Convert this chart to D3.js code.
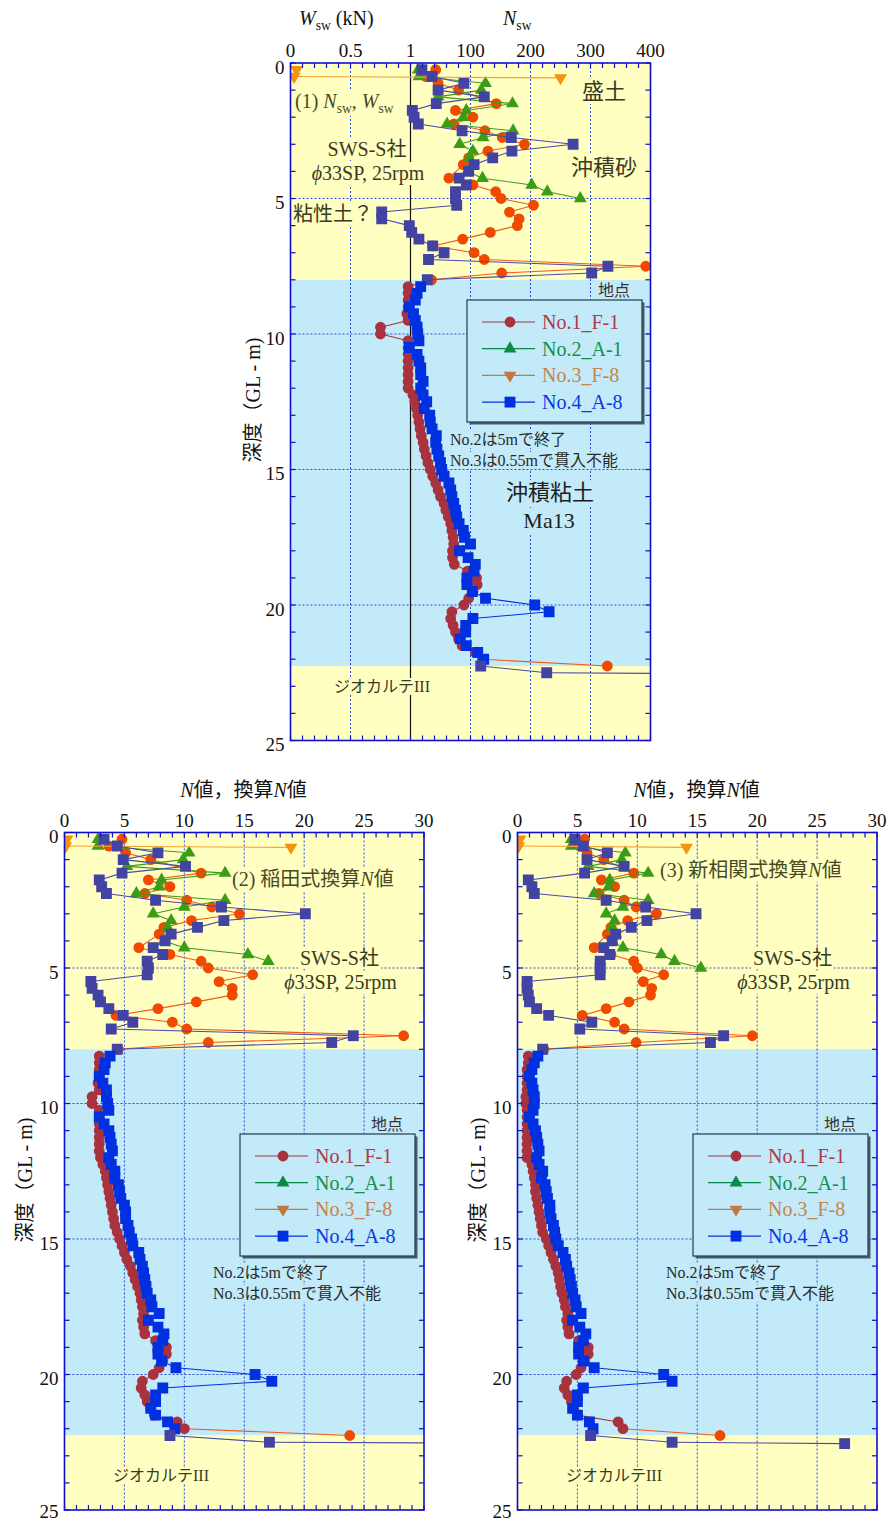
<!DOCTYPE html>
<html><head><meta charset="utf-8">
<script src="https://cdn.jsdelivr.net/npm/d3@7"></script>
<style>body{margin:0;background:#fff}</style>
</head><body>
<svg id="c" width="893" height="1521" xmlns="http://www.w3.org/2000/svg"></svg>
<script>
// ---------------- DATA ----------------
// Soil layers (depth, m)
const soilTop = [0, 8, 22.25];
const soilBottom = [8, 22.25, 25];
const soilKind = ['sand', 'clay', 'sand'];

const depthTicks = [0, 5, 10, 15, 20, 25];
const topTickW = [0, 0.5, 1];            // Wsw (kN)
const topTickN = [100, 200, 300, 400];   // Nsw
const nTicks = [0, 5, 10, 15, 20, 25, 30];
const seriesNames = ['No.1_F-1', 'No.2_A-1', 'No.3_F-8', 'No.4_A-8'];

// Panel (1): [depth m, Wsw kN, Nsw]
const top_no1 = [[0.25,1,42],[0.5,1,26],[0.75,1,46],[1.0,1,80],[1.5,1,143],[1.75,1,75],[2.0,1,104],[2.25,1,72],[2.5,1,124],[2.75,1,153],[3.0,1,190],[3.25,1,129],[3.5,1,97],[3.75,1,88],[4.25,1,64],[4.5,1,104],[4.75,1,142],[5.0,1,151],[5.25,1,205],[5.5,1,165],[5.75,1,181],[6.0,1,178],[6.25,1,133],[6.5,1,87],[6.75,1,37],[7.0,1,106],[7.25,1,123],[7.5,1,392],[7.75,1,152],[8.0,1,35],
 [8.25,0.98,0],[8.5,0.98,0],[8.75,0.98,0],[9.0,0.98,0],[9.25,0.97,0],[9.5,0.98,0],[9.75,0.75,0],[10.0,0.75,0],[10.25,0.98,0],[10.5,0.98,0],[10.75,0.98,0],[11.0,0.98,0],[11.25,0.98,0],[11.5,0.98,0],[11.75,0.98,0],[12.0,0.98,0],[12.25,1,4],[12.5,1,7],[12.75,1,10],[13.0,1,12],[13.25,1,14],[13.5,1,16],[13.75,1,18],[14.0,1,21],[14.25,1,23],[14.5,1,26],[14.75,1,29],[15.0,1,33],[15.25,1,37],[15.5,1,42],[15.75,1,46],[16.0,1,50],[16.25,1,56],[16.5,1,59],[16.75,1,63],[17.0,1,67],[17.25,1,69],[17.5,1,71],[17.75,1,72],[18.0,1,70],[18.25,1,70],[18.5,1,73],[18.75,1,95],[19.0,1,110],[19.25,1,111],[19.5,1,104],[19.75,1,97],[20.0,1,89],[20.25,1,69],[20.5,1,67],[20.75,1,71],[21.0,1,75],[21.25,1,80],[21.5,1,86],[21.75,1,108],[22.0,1,120],[22.25,1,328]];
const top_no2 = [[0.25,1,13],[0.5,1,14],[0.75,1,125],[1.0,1,118],[1.25,1,46],[1.5,1,170],[1.75,1,93],[2.0,1,88],[2.25,1,61],[2.5,1,171],[2.75,1,121],[3.0,1,82],[3.25,1,104],[3.5,1,98],[3.75,1,103],[4.0,1,95],[4.25,1,120],[4.5,1,202],[4.75,1,228],[5.0,1,283]];
const top_no3 = [[0.25,0.05,0],[0.5,0.03,0],[0.55,1,250]];
const top_no4 = [[0.25,1,19],[0.5,1,36],[0.75,1,89],[1.0,1,46],[1.25,1,123],[1.5,1,43],[1.75,1,3],[2.0,1,6],[2.25,1,13],[2.5,1,86],[2.75,1,168],[3.0,1,271],[3.25,1,169],[3.5,1,137],[3.75,1,106],[4.0,1,97],[4.25,1,81],[4.5,1,93],[4.75,1,75],[5.0,1,75],[5.25,1,77],[5.5,0.76,0],[5.75,0.76,0],[6.0,0.99,0],[6.25,1,2],[6.5,1,14],[6.75,1,37],[7.0,1,56],[7.25,1,30],[7.5,1,329],[7.75,1,302],[8.0,1,28],
 [8.25,1,17],[8.5,1,11],[8.75,1,8],[9.0,0.99,0],[9.25,1,5],[9.5,1,8],[9.75,1,11],[10.0,1,12],[10.25,1,14],[10.5,0.99,0],[10.75,1,11],[11.0,1,14],[11.25,1,17],[11.5,1,17],[11.75,1,21],[12.0,1,17],[12.25,1,21],[12.5,1,27],[12.75,1,23],[13.0,1,32],[13.25,1,33],[13.5,1,36],[13.75,1,43],[14.0,1,42],[14.25,1,44],[14.5,1,47],[14.75,1,50],[15.0,1,52],[15.25,1,56],[15.5,1,64],[15.75,1,67],[16.0,1,69],[16.25,1,72],[16.5,1,75],[16.75,1,77],[17.0,1,81],[17.25,1,88],[17.5,1,90],[17.75,1,100],[18.0,1,82],[18.25,1,96],[18.5,1,108],[18.75,1,106],[19.0,1,94],[19.25,1,94],[19.5,1,103],[19.75,1,125],[20.0,1,207],[20.25,1,231],[20.5,1,104],[20.75,1,92],[21.0,1,92],[21.25,1,83],[21.5,1,93],[21.75,1,112],[22.0,1,122],[22.25,1,117],[22.5,1,227],[22.55,1,600]];

// Panel (2) Inada-converted N: [depth m, N]
const bl_no1 = [[0.25,4.8],[0.5,3.7],[0.75,5.1],[1.0,7.2],[1.5,11.4],[1.75,7.0],[2.0,8.8],[2.25,6.7],[2.5,10.2],[2.75,12.3],[3.0,14.6],[3.25,10.6],[3.5,8.3],[3.75,7.9],[4.25,6.2],[4.5,8.8],[4.75,11.4],[5.0,12.0],[5.25,15.7],[5.5,12.9],[5.75,14.0],[6.0,14.0],[6.25,11.0],[6.5,7.8],[6.75,4.3],[7.0,9.0],[7.25,10.2],[7.5,28.3],[7.75,12.0],[8.0,4.5],
 [8.25,2.9],[8.5,2.9],[8.75,2.9],[9.0,2.9],[9.25,2.8],[9.5,2.9],[9.75,2.3],[10.0,2.3],[10.25,2.9],[10.5,2.9],[10.75,2.9],[11.0,2.9],[11.25,2.9],[11.5,2.9],[11.75,2.9],[12.0,3.0],[12.25,3.2],[12.5,3.4],[12.75,3.5],[13.0,3.6],[13.25,3.7],[13.5,3.8],[13.75,3.9],[14.0,4.0],[14.25,4.1],[14.5,4.2],[14.75,4.4],[15.0,4.6],[15.25,4.8],[15.5,5.0],[15.75,5.2],[16.0,5.5],[16.25,5.7],[16.5,5.9],[16.75,6.1],[17.0,6.3],[17.25,6.4],[17.5,6.5],[17.75,6.6],[18.0,6.5],[18.25,6.6],[18.5,6.7],[18.75,7.6],[19.0,8.5],[19.25,8.5],[19.5,8.2],[19.75,7.9],[20.0,7.4],[20.25,6.5],[20.5,6.4],[20.75,6.7],[21.0,6.9],[21.25,7.2],[21.5,7.5],[21.75,9.4],[22.0,10.0],[22.25,23.8]];
const bl_no2 = [[0.25,2.8],[0.5,2.8],[0.75,10.4],[1.0,9.9],[1.25,5.2],[1.5,13.4],[1.75,8.1],[2.0,7.9],[2.25,6.0],[2.5,13.4],[2.75,10.0],[3.0,7.4],[3.25,8.9],[3.5,8.6],[3.75,8.8],[4.0,8.3],[4.25,10.0],[4.5,15.3],[4.75,17.0]];
const bl_no3 = [[0.25,0.2],[0.5,0.1],[0.55,18.9]];
const bl_no4 = [[0.25,3.3],[0.5,4.4],[0.75,7.8],[1.0,4.9],[1.25,10.1],[1.5,4.8],[1.75,2.9],[2.0,3.1],[2.25,3.5],[2.5,7.6],[2.75,13.1],[3.0,20.1],[3.25,13.3],[3.5,11.1],[3.75,8.9],[4.0,8.4],[4.25,7.4],[4.5,8.2],[4.75,6.9],[5.0,7.0],[5.25,6.9],[5.5,2.2],[5.75,2.3],[6.0,2.8],[6.25,3.0],[6.5,3.7],[6.75,4.9],[7.0,5.7],[7.25,3.9],[7.5,24.1],[7.75,22.3],[8.0,4.4],
 [8.25,3.8],[8.5,3.4],[8.75,3.3],[9.0,2.9],[9.25,3.2],[9.5,3.5],[9.75,3.5],[10.0,3.6],[10.25,3.7],[10.5,2.9],[10.75,3.3],[11.0,3.7],[11.25,3.8],[11.5,3.9],[11.75,4.0],[12.0,3.7],[12.25,3.9],[12.5,4.2],[12.75,4.2],[13.0,4.5],[13.25,4.6],[13.5,4.7],[13.75,5.0],[14.0,5.1],[14.25,5.1],[14.5,5.3],[14.75,5.4],[15.0,5.6],[15.25,5.7],[15.5,6.2],[15.75,6.3],[16.0,6.5],[16.25,6.6],[16.5,6.7],[16.75,6.8],[17.0,6.9],[17.25,7.2],[17.5,7.3],[17.75,7.9],[18.0,7.0],[18.25,7.8],[18.5,8.3],[18.75,8.2],[19.0,7.8],[19.25,7.8],[19.5,8.1],[19.75,9.3],[20.0,15.9],[20.25,17.3],[20.5,8.2],[20.75,7.6],[21.0,7.6],[21.25,7.2],[21.5,7.6],[21.75,8.6],[22.0,9.2],[22.25,8.8],[22.5,17.1],[22.55,45]];

// Panel (3) new-correlation converted N: [depth m, N]
const br_no1 = [[0.25,5.6],[0.5,5.2],[0.75,5.8],[1.0,7.2],[1.5,9.7],[1.75,7.0],[2.0,8.1],[2.25,6.8],[2.5,8.9],[2.75,9.9],[3.0,11.6],[3.25,9.2],[3.5,7.8],[3.75,7.5],[4.25,6.4],[4.5,7.8],[4.75,9.7],[5.0,10.0],[5.25,12.2],[5.5,10.5],[5.75,11.2],[6.0,11.1],[6.25,9.3],[6.5,7.4],[6.75,5.4],[7.0,8.1],[7.25,8.9],[7.5,19.6],[7.75,9.9],[8.0,2.2],
 [8.25,0.9],[8.5,0.9],[8.75,0.8],[9.0,0.8],[9.25,0.8],[9.5,0.8],[9.75,0.7],[10.0,0.7],[10.25,0.8],[10.5,0.8],[10.75,0.8],[11.0,0.8],[11.25,0.8],[11.5,0.8],[11.75,0.8],[12.0,0.8],[12.25,1.2],[12.5,1.3],[12.75,1.4],[13.0,1.5],[13.25,1.5],[13.5,1.6],[13.75,1.7],[14.0,1.8],[14.25,1.9],[14.5,2.0],[14.75,2.1],[15.0,2.4],[15.25,2.6],[15.5,2.8],[15.75,3.0],[16.0,3.2],[16.25,3.4],[16.5,3.5],[16.75,3.6],[17.0,3.7],[17.25,3.9],[17.5,4.0],[17.75,4.2],[18.0,4.1],[18.25,4.2],[18.5,4.3],[18.75,5.1],[19.0,5.9],[19.25,5.9],[19.5,5.6],[19.75,5.3],[20.0,4.9],[20.25,4.1],[20.5,3.9],[20.75,4.2],[21.0,4.5],[21.25,4.7],[21.5,5.0],[21.75,8.4],[22.0,8.8],[22.25,16.9]];
const br_no2 = [[0.25,4.5],[0.5,4.5],[0.75,9.0],[1.0,8.7],[1.25,5.9],[1.5,10.9],[1.75,7.7],[2.0,7.6],[2.25,6.4],[2.5,10.9],[2.75,8.8],[3.0,7.4],[3.25,8.1],[3.5,7.9],[3.75,8.2],[4.0,7.9],[4.25,8.8],[4.5,12.0],[4.75,13.1],[5.0,15.3]];
const br_no3 = [[0.25,0.2],[0.5,0.1],[0.55,14.1]];
const br_no4 = [[0.25,4.8],[0.5,5.5],[0.75,7.5],[1.0,5.8],[1.25,8.9],[1.5,5.6],[1.75,0.9],[2.0,1.2],[2.25,1.4],[2.5,7.4],[2.75,10.7],[3.0,14.9],[3.25,10.8],[3.5,9.5],[3.75,8.2],[4.0,7.9],[4.25,7.2],[4.5,7.7],[4.75,6.9],[5.0,6.9],[5.25,6.9],[5.5,0.8],[5.75,0.8],[6.0,0.9],[6.25,1.0],[6.5,1.6],[6.75,2.6],[7.0,6.2],[7.25,5.2],[7.5,17.2],[7.75,16.1],[8.0,2.1],
 [8.25,1.7],[8.5,1.4],[8.75,1.2],[9.0,1.0],[9.25,1.2],[9.5,1.3],[9.75,1.4],[10.0,1.4],[10.25,1.3],[10.5,1.0],[10.75,1.3],[11.0,1.5],[11.25,1.6],[11.5,1.7],[11.75,1.8],[12.0,1.6],[12.25,1.8],[12.5,2.1],[12.75,2.0],[13.0,2.3],[13.25,2.4],[13.5,2.5],[13.75,2.7],[14.0,2.7],[14.25,2.8],[14.5,3.0],[14.75,3.1],[15.0,3.2],[15.25,3.4],[15.5,3.8],[15.75,4.0],[16.0,4.1],[16.25,4.3],[16.5,4.4],[16.75,4.5],[17.0,4.6],[17.25,4.8],[17.5,4.9],[17.75,5.3],[18.0,4.6],[18.25,5.2],[18.5,5.7],[18.75,5.5],[19.0,5.1],[19.25,5.1],[19.5,5.5],[19.75,6.4],[20.0,12.2],[20.25,12.9],[20.5,5.5],[20.75,5.0],[21.0,5.0],[21.25,4.6],[21.5,5.0],[21.75,6.0],[22.0,6.3],[22.25,6.1],[22.5,12.9],[22.55,27.3]];

// ---------------- STYLE ----------------
const SAND = '#ffffc2', CLAY = '#c2eaf8', GRID = '#2a4ae0', FRAME = '#1010c8';
const SERIF = '"Liberation Serif","Times New Roman","Noto Sans CJK JP",serif';
const TXT = '#3a3a22';
const sty = [
  {shape: d3.symbolCircle, size: 92, rot: 0, sand: {m: '#f04a00', l: '#f05a18'}, clay: {m: '#a8323e', l: '#a8323e'}, leg: '#a8323e', txt: '#ad3a46'},
  {shape: d3.symbolTriangle, size: 72, rot: 0, sand: {m: '#3c9c18', l: '#3c9c20'}, clay: {m: '#3c9c18', l: '#3c9c20'}, leg: '#0a8a48', txt: '#14904c'},
  {shape: d3.symbolTriangle, size: 72, rot: 180, sand: {m: '#f5920e', l: '#f6a030'}, clay: {m: '#f5920e', l: '#f6a030'}, leg: '#c07a40', txt: '#c8844c'},
  {shape: d3.symbolSquare, size: 118, rot: 0, sand: {m: '#4343a3', l: '#4a4aa8'}, clay: {m: '#0030e0', l: '#0030e0'}, leg: '#0030e0', txt: '#0a38e6'}
];
const kindAt = d => (d > 8 && d < 22.25) ? 'clay' : 'sand';

const svg = d3.select('#c');

function rich(t, segs, fs) {
  let shifted = false;
  segs.forEach(s => {
    const ts = t.append('tspan').text(s.t);
    if (s.it) ts.attr('font-style', 'italic');
    if (s.sub) { ts.attr('font-size', fs * 0.68); if (!shifted) ts.attr('dy', fs * 0.25); shifted = true; }
    else if (shifted) { ts.attr('dy', -fs * 0.25); shifted = false; }
  });
}
function note(layer, x, y, segs, o) {
  o = Object.assign({fs: 19, anchor: 'start', fill: TXT, bg: null}, o || {});
  const t = layer.append('text').attr('x', x).attr('y', y).attr('font-size', o.fs)
    .attr('text-anchor', o.anchor).attr('fill', o.fill).attr('font-family', SERIF);
  rich(t, typeof segs === 'string' ? [{t: segs}] : segs, o.fs);
  if (o.bg) {
    const b = t.node().getBBox();
    layer.insert('rect', () => t.node()).attr('x', b.x - 2).attr('y', b.y).attr('width', b.width + 4)
      .attr('height', b.height).attr('fill', o.bg);
  }
  return t;
}

function drawPanel(p) {
  const root = svg.append('g');
  const y = d3.scaleLinear().domain([0, 25]).range([p.y0, p.y0 + p.h]);
  const L = {bg: root.append('g'), grid: root.append('g'), txt: root.append('g'), data: root.append('g'), frame: root.append('g'), leg: root.append('g')};
  const cid = 'clip' + p.id;
  svg.append('defs').append('clipPath').attr('id', cid).append('rect')
    .attr('x', p.x0).attr('y', p.y0).attr('width', p.w).attr('height', p.h);
  L.data.attr('clip-path', `url(#${cid})`);

  soilTop.forEach((t, i) => L.bg.append('rect').attr('x', p.x0).attr('y', y(t)).attr('width', p.w)
    .attr('height', y(soilBottom[i]) - y(t)).attr('fill', soilKind[i] === 'sand' ? SAND : CLAY));

  [5, 10, 15, 20].forEach(v => L.grid.append('line').attr('x1', p.x0).attr('x2', p.x0 + p.w)
    .attr('y1', y(v)).attr('y2', y(v)).attr('stroke', GRID).attr('stroke-width', 1).attr('stroke-dasharray', '2,2'));
  p.vgrid.forEach(x => L.grid.append('line').attr('x1', x).attr('x2', x).attr('y1', p.y0).attr('y2', p.y0 + p.h)
    .attr('stroke', GRID).attr('stroke-width', 1).attr('stroke-dasharray', '2,2'));
  if (p.blackLine != null) L.grid.append('line').attr('x1', p.blackLine).attr('x2', p.blackLine)
    .attr('y1', p.y0).attr('y2', p.y0 + p.h).attr('stroke', '#111').attr('stroke-width', 1.2);

  // annotations
  p.notes.forEach(n => note(L.txt, n.x, n.y, n.segs, n.o));

  // data
  p.series.forEach((data, si) => {
    const s = sty[si];
    const pts = data.map(r => ({d: r[0], x: p.xpos(r), y: y(r[0])}));
    for (let i = 1; i < pts.length; i++) {
      L.data.append('line').attr('x1', pts[i - 1].x).attr('y1', pts[i - 1].y).attr('x2', pts[i].x).attr('y2', pts[i].y)
        .attr('stroke', s[kindAt(pts[i].d)].l).attr('stroke-width', 1.1);
    }
    const sym = d3.symbol().type(s.shape).size(s.size);
    pts.forEach(pt => L.data.append('path').attr('d', sym())
      .attr('transform', `translate(${pt.x},${pt.y}) rotate(${s.rot})`).attr('fill', s[kindAt(pt.d)].m));
  });

  // frame & ticks
  L.frame.append('rect').attr('x', p.x0).attr('y', p.y0).attr('width', p.w).attr('height', p.h)
    .attr('fill', 'none').attr('stroke', FRAME).attr('stroke-width', 1.6);
  p.xMinor.forEach(x => {
    L.frame.append('line').attr('x1', x).attr('x2', x).attr('y1', p.y0).attr('y2', p.y0 + 5).attr('stroke', FRAME).attr('stroke-width', 1.2);
    L.frame.append('line').attr('x1', x).attr('x2', x).attr('y1', p.y0 + p.h).attr('y2', p.y0 + p.h - 5).attr('stroke', FRAME).attr('stroke-width', 1.2);
  });
  d3.range(0, 25.01, 1).forEach(d => {
    L.frame.append('line').attr('x1', p.x0).attr('x2', p.x0 + 5).attr('y1', y(d)).attr('y2', y(d)).attr('stroke', FRAME).attr('stroke-width', 1.2);
    L.frame.append('line').attr('x1', p.x0 + p.w).attr('x2', p.x0 + p.w - 5).attr('y1', y(d)).attr('y2', y(d)).attr('stroke', FRAME).attr('stroke-width', 1.2);
  });
  p.xLabels.forEach(([x, t]) => L.frame.append('text').attr('x', x).attr('y', p.y0 - 6).attr('text-anchor', 'middle')
    .attr('font-size', 19).attr('font-family', SERIF).attr('fill', '#111').text(t));
  depthTicks.forEach(d => L.frame.append('text').attr('x', p.x0 - 6).attr('y', Math.min(y(d) + 10.5, 1518)).attr('text-anchor', 'end')
    .attr('font-size', 19).attr('font-family', SERIF).attr('fill', '#111').text(d));

  // y title
  L.frame.append('text').attr('transform', `translate(${p.ytx},${p.yty}) rotate(-90)`).attr('text-anchor', 'middle')
    .attr('font-size', 20).attr('font-family', SERIF).attr('fill', '#111').text('深度（GL - m)');
  // x title
  p.xTitle.forEach(n => note(L.frame, n.x, n.y, n.segs, Object.assign({fill: '#111'}, n.o)));

  // legend
  const lx = p.legX, ly = p.legY;
  note(L.leg, lx + 147, ly - 4, '地点', {fs: 16, anchor: 'middle', fill: '#333'});
  L.leg.append('rect').attr('x', lx + 2.5).attr('y', ly + 2.5).attr('width', 175).attr('height', 122).attr('fill', '#4a5a66');
  L.leg.append('rect').attr('x', lx).attr('y', ly).attr('width', 175).attr('height', 122).attr('fill', CLAY)
    .attr('stroke', '#2c4a58').attr('stroke-width', 1.3);
  seriesNames.forEach((nm, i) => {
    const s = sty[i], ry = ly + 22 + i * 26.7;
    L.leg.append('line').attr('x1', lx + 15).attr('x2', lx + 68).attr('y1', ry).attr('y2', ry).attr('stroke', s.leg).attr('stroke-width', 1.2);
    L.leg.append('path').attr('d', d3.symbol().type(s.shape).size(s.size)()).attr('transform', `translate(${lx + 43},${ry}) rotate(${s.rot})`).attr('fill', s.leg);
    L.leg.append('text').attr('x', lx + 75).attr('y', ry + 7).attr('font-size', 20).attr('font-family', SERIF).attr('fill', s.txt).text(nm);
  });
}

// ---------- Panel (1) ----------
{
  const x0 = 290.5, w = 360;
  const xW = d3.scaleLinear().domain([0, 1]).range([x0, x0 + 120]);
  const xN = d3.scaleLinear().domain([0, 400]).range([x0 + 120, x0 + w]);
  drawPanel({
    id: 'a', x0, y0: 63, w, h: 677.5,
    xpos: r => r[2] > 0 ? xN(r[2]) : xW(r[1]),
    vgrid: [xW(0.5), xN(100), xN(200), xN(300)],
    blackLine: xW(1),
    xMinor: d3.range(0, 1.001, 0.1).map(xW).concat(d3.range(20, 400.1, 20).map(xN)),
    xLabels: topTickW.map(v => [xW(v), String(v)]).concat(topTickN.map(v => [xN(v), String(v)])),
    ytx: 260, yty: 400,
    xTitle: [
      {x: 299, y: 25, segs: [{t: 'W', it: 1}, {t: 'sw', sub: 1}, {t: ' (kN)'}], o: {fs: 20}},
      {x: 503, y: 25, segs: [{t: 'N', it: 1}, {t: 'sw', sub: 1}], o: {fs: 20}}
    ],
    legX: 467, legY: 300,
    series: [top_no1, top_no2, top_no3, top_no4],
    notes: [
      {x: 295, y: 108, segs: [{t: '(1) '}, {t: 'N', it: 1}, {t: 'sw', sub: 1}, {t: ', '}, {t: 'W', it: 1}, {t: 'sw', sub: 1}], o: {fs: 20, fill: '#4a4a22', bg: SAND}},
      {x: 604, y: 99, segs: '盛土', o: {fs: 22, anchor: 'middle', bg: SAND}},
      {x: 367, y: 156, segs: 'SWS-S社', o: {fs: 20, anchor: 'middle', bg: SAND}},
      {x: 368, y: 180, segs: [{t: 'ϕ', it: 1}, {t: '33SP, 25rpm'}], o: {fs: 20, anchor: 'middle', bg: SAND}},
      {x: 604, y: 175, segs: '沖積砂', o: {fs: 22, anchor: 'middle', bg: SAND}},
      {x: 293, y: 221, segs: '粘性土？', o: {fs: 20, bg: SAND}},
      {x: 450, y: 445, segs: 'No.2は5mで終了', o: {fs: 16, fill: '#2a2a2a', bg: CLAY}},
      {x: 450, y: 466, segs: 'No.3は0.55mで貫入不能', o: {fs: 16, fill: '#2a2a2a', bg: CLAY}},
      {x: 550, y: 500, segs: '沖積粘土', o: {fs: 22, anchor: 'middle', fill: '#1e1e1e', bg: CLAY}},
      {x: 549, y: 528, segs: 'Ma13', o: {fs: 22, anchor: 'middle', fill: '#1e1e1e', bg: CLAY}},
      {x: 382, y: 692, segs: 'ジオカルテIII', o: {fs: 16, anchor: 'middle', bg: SAND}}
    ]
  });
}

// ---------- Panels (2) and (3) ----------
function bottomPanel(id, x0, series, tag, tagX, tagY) {
  const w = 359.5;
  const xN = d3.scaleLinear().domain([0, 30]).range([x0, x0 + w]);
  drawPanel({
    id, x0, y0: 832.5, w, h: 677.5,
    xpos: r => xN(r[1]),
    vgrid: [5, 10, 15, 20, 25].map(xN),
    blackLine: null,
    xMinor: d3.range(0, 30.01, 1).map(xN),
    xLabels: nTicks.map(v => [xN(v), String(v)]),
    ytx: x0 - 33, yty: 1180,
    xTitle: [
      {x: x0 + 179, y: 797, segs: [{t: 'N', it: 1}, {t: '値，換算'}, {t: 'N', it: 1}, {t: '値'}], o: {fs: 20, anchor: 'middle'}}
    ],
    legX: x0 + 175.5, legY: 1134,
    series,
    notes: [
      {x: tagX, y: tagY, segs: tag, o: {fs: 20, fill: '#4a4a22', bg: SAND}},
      {x: x0 + 275, y: 965, segs: 'SWS-S社', o: {fs: 20, anchor: 'middle', bg: SAND}},
      {x: x0 + 276, y: 989, segs: [{t: 'ϕ', it: 1}, {t: '33SP, 25rpm'}], o: {fs: 20, anchor: 'middle', bg: SAND}},
      {x: x0 + 148.5, y: 1278, segs: 'No.2は5mで終了', o: {fs: 16, fill: '#2a2a2a', bg: CLAY}},
      {x: x0 + 148.5, y: 1299, segs: 'No.3は0.55mで貫入不能', o: {fs: 16, fill: '#2a2a2a', bg: CLAY}},
      {x: x0 + 96.5, y: 1481, segs: 'ジオカルテIII', o: {fs: 16, anchor: 'middle', bg: SAND}}
    ]
  });
}
bottomPanel('b', 64.5, [bl_no1, bl_no2, bl_no3, bl_no4],
  [{t: '(2) 稲田式換算'}, {t: 'N', it: 1}, {t: '値'}], 232, 886);
bottomPanel('c', 517.5, [br_no1, br_no2, br_no3, br_no4],
  [{t: '(3) 新相関式換算'}, {t: 'N', it: 1}, {t: '値'}], 660, 877);
</script>
</body></html>
